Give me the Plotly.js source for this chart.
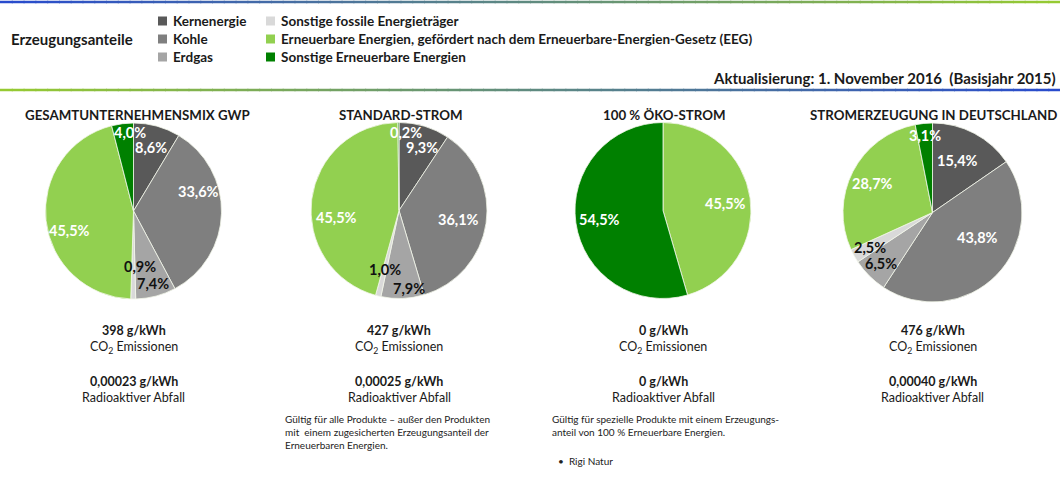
<!DOCTYPE html>
<html>
<head>
<meta charset="utf-8">
<script src="https://cdn.plot.ly/plotly-3.0.1.min.js"></script>
<style>
  html, body { margin: 0; padding: 0; background: #ffffff; }
  #chart { width: 1060px; height: 486px; }
</style>
</head>
<body>
<div id="chart"></div>
<script>
// ---------------- DATA ----------------
const categories = [
  "Kernenergie",
  "Kohle",
  "Erdgas",
  "Sonstige fossile Energieträger",
  "Erneuerbare Energien, gefördert nach dem Erneuerbare-Energien-Gesetz (EEG)",
  "Sonstige Erneuerbare Energien"
];
const chartTitles = [
  "GESAMTUNTERNEHMENSMIX GWP",
  "STANDARD-STROM",
  "100 % ÖKO-STROM",
  "STROMERZEUGUNG IN DEUTSCHLAND"
];
const gesamtmix   = [8.6, 33.6, 7.4, 0.9, 45.5, 4.0];
const standard    = [9.3, 36.1, 7.9, 1.0, 45.5, 0.2];
const oekostrom   = [0, 0, 0, 0, 45.5, 54.5];
const deutschland = [15.4, 43.8, 6.5, 2.5, 28.7, 3.1];
const co2Values   = [398, 427, 0, 476];           // g/kWh
const wasteValues = [0.00023, 0.00025, 0, 0.00040]; // g/kWh
const headerLabel = "Erzeugungsanteile";
const updateNote  = "Aktualisierung: 1. November 2016  (Basisjahr 2015)";
const noteStandard = "Gültig für alle Produkte – außer den Produkten<br>mit  einem zugesicherten Erzeugungsanteil der<br>Erneuerbaren Energien.";
const noteOeko     = "Gültig für spezielle Produkte mit einem Erzeugungs-<br>anteil von 100 % Erneuerbare Energien.";
const oekoProducts = ["Rigi Natur"];

// ---------------- STYLE ----------------
const W = 1060, H = 486;
const FONT = "Lato, 'Open Sans', sans-serif";
const colors = ["#595959", "#7f7f7f", "#a5a5a5", "#d9d9d9", "#92d050", "#008000"];
const labelColors = ["#ffffff", "#ffffff", "#111111", "#111111", "#ffffff", "#ffffff"];
const pieGeom = [
  {cx: 133.5, cy: 211.0, r: 88},
  {cx: 399.0, cy: 210.5, r: 88},
  {cx: 663.0, cy: 210.5, r: 88},
  {cx: 932.5, cy: 212.5, r: 89.5}
];
const titleX = [137, 400, 664, 933];
// label placement style: radial factor and angular shift (deg) per slice
const labelRadius = [
  [0.75, 0.77, 0.85, 0.63, 0.76, 0.89],
  [0.76, 0.68, 0.89, 0.69, 0.72, 0.89],
  [0.70, 0.70, 0.70, 0.70, 0.71, 0.73],
  [0.65, 0.58, 0.81, 0.80, 0.74, 0.87]
];
const labelShift = [
  [0, -18, 0, -7, -11, 4.6],
  [3, 0, -5, 0, -13.7, 5.5],
  [0, 0, 0, 0, 1.7, 0],
  [-1.8, -15, 0, 0, -1.6, 0]
];

const series = [gesamtmix, standard, oekostrom, deutschland];
const px = x => x / W;
const py = y => 1 - y / H;
const fmtPct = v => v.toFixed(1).replace('.', ',') + '%';
const fmtNum = v => v === 0 ? '0' : String(v.toFixed(5)).replace('.', ',');

const traces = [];
const annotations = [];
const shapes = [];

series.forEach((vals, i) => {
  const g = pieGeom[i];
  traces.push({
    type: 'pie',
    labels: categories,
    values: vals,
    sort: false,
    direction: 'clockwise',
    rotation: 0,
    marker: {colors: colors, line: {color: '#f2f6ea', width: 0.8}},
    textinfo: 'none',
    hoverinfo: 'label+percent',
    showlegend: false,
    domain: {x: [px(g.cx - g.r), px(g.cx + g.r)], y: [py(g.cy + g.r), py(g.cy - g.r)]}
  });
  // slice labels computed from data
  const total = vals.reduce((a, b) => a + b, 0);
  let cum = 0;
  vals.forEach((v, j) => {
    if (v <= 0) { return; }
    const mid = (cum + v / 2) / total * 360 + labelShift[i][j];
    cum += v;
    const a = mid * Math.PI / 180;
    const k = labelRadius[i][j] * g.r;
    annotations.push({
      xref: 'paper', yref: 'paper',
      x: px(g.cx + k * Math.sin(a)), y: py(g.cy - k * Math.cos(a)),
      text: '<b>' + fmtPct(v) + '</b>', showarrow: false,
      font: {family: FONT, size: 14.5, color: labelColors[j]},
      xanchor: 'center', yanchor: 'middle'
    });
  });
  // chart title
  annotations.push({
    xref: 'paper', yref: 'paper', x: px(titleX[i]), y: py(115),
    text: '<b>' + chartTitles[i] + '</b>', showarrow: false,
    font: {family: FONT, size: 13.3, color: '#1a1a1a'}, xanchor: 'center', yanchor: 'middle'
  });
  // key figures
  const lines = [
    {t: '<b>' + co2Values[i] + ' g/kWh</b>', y: 330},
    {t: 'CO<sub>2</sub> Emissionen', y: 347},
    {t: '<b>' + fmtNum(wasteValues[i]) + ' g/kWh</b>', y: 381},
    {t: 'Radioaktiver Abfall', y: 397}
  ];
  lines.forEach(l => annotations.push({
    xref: 'paper', yref: 'paper', x: px(g.cx), y: py(l.y), text: l.t, showarrow: false,
    font: {family: FONT, size: 12.5, color: '#1a1a1a'}, xanchor: 'center', yanchor: 'middle'
  }));
});

// notes
annotations.push({
  xref: 'paper', yref: 'paper', x: px(283), y: py(411), text: noteStandard, showarrow: false,
  align: 'left', xanchor: 'left', yanchor: 'top',
  font: {family: FONT, size: 10, color: '#222222'}
});
annotations.push({
  xref: 'paper', yref: 'paper', x: px(550), y: py(411), text: noteOeko, showarrow: false,
  align: 'left', xanchor: 'left', yanchor: 'top',
  font: {family: FONT, size: 10, color: '#222222'}
});
oekoProducts.forEach((p, n) => annotations.push({
  xref: 'paper', yref: 'paper', x: px(556), y: py(461 + n * 14), text: '•  ' + p, showarrow: false,
  align: 'left', xanchor: 'left', yanchor: 'middle',
  font: {family: FONT, size: 10, color: '#222222'}
}));

// header
annotations.push({
  xref: 'paper', yref: 'paper', x: px(9), y: py(39), text: '<b>' + headerLabel + '</b>', showarrow: false,
  xanchor: 'left', yanchor: 'middle', font: {family: FONT, size: 15, color: '#1a1a1a'}
});
annotations.push({
  xref: 'paper', yref: 'paper', x: px(1058), y: py(78), text: '<b>' + updateNote + '</b>', showarrow: false,
  xanchor: 'right', yanchor: 'middle', font: {family: FONT, size: 15, color: '#1a1a1a'}
});

// legend (3 rows x 2 columns, column-major)
const legendCols = [{sq: 158, tx: 171}, {sq: 266, tx: 279}];
const legendRows = [21, 39, 57];
categories.forEach((c, j) => {
  const col = legendCols[Math.floor(j / 3)];
  const row = legendRows[j % 3];
  shapes.push({
    type: 'rect', xref: 'paper', yref: 'paper',
    x0: px(col.sq), x1: px(col.sq + 9), y0: py(row + 4.5), y1: py(row - 4.5),
    fillcolor: colors[j], line: {width: 0}
  });
  annotations.push({
    xref: 'paper', yref: 'paper', x: px(col.tx), y: py(row), text: '<b>' + c + '</b>', showarrow: false,
    xanchor: 'left', yanchor: 'middle', font: {family: FONT, size: 13.5, color: '#1a1a1a'}
  });
});

// gradient rules
function gradientRule(y, from, to) {
  const N = 90;
  for (let s = 0; s < N; s++) {
    const t = s / (N - 1);
    const c = from.map((v, k) => Math.round(v + (to[k] - v) * t));
    shapes.push({
      type: 'line', xref: 'paper', yref: 'paper',
      x0: s / N, x1: (s + 1) / N + 0.001, y0: py(y), y1: py(y),
      line: {color: 'rgb(' + c.join(',') + ')', width: 2.5}
    });
  }
}
const blue = [40, 75, 205], green = [150, 202, 50];
gradientRule(2, blue, green);
gradientRule(90, green, blue);

const layout = {
  width: W, height: H,
  margin: {l: 0, r: 0, t: 0, b: 0},
  paper_bgcolor: '#ffffff',
  plot_bgcolor: '#ffffff',
  separators: ',.',
  showlegend: false,
  annotations: annotations,
  shapes: shapes,
  font: {family: FONT}
};

Plotly.newPlot('chart', traces, layout, {displayModeBar: false, staticPlot: true});
</script>
</body>
</html>
